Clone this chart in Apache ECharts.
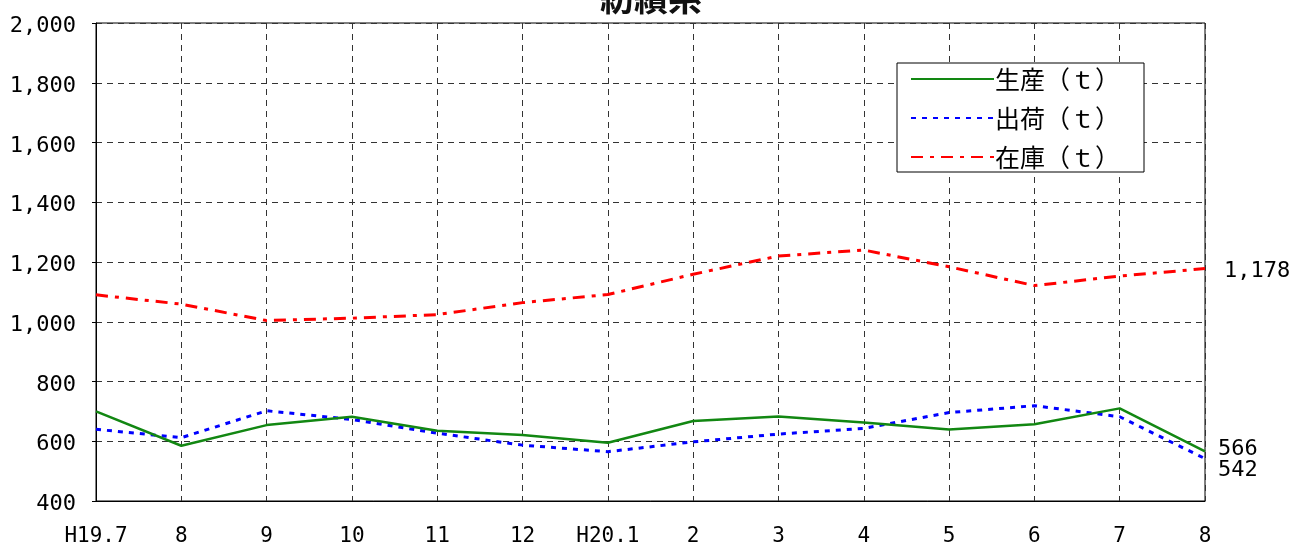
<!DOCTYPE html>
<html><head><meta charset="utf-8">
<script src="https://cdn.jsdelivr.net/npm/echarts@6/dist/echarts.min.js"></script>
<style>html,body{margin:0;padding:0;background:#fff}#c{width:1302px;height:543px}</style>
</head><body><div id="c"></div>
<script>
var categories = ['H19.7','8','9','10','11','12','H20.1','2','3','4','5','6','7','8'];
var production = [700,585,654,682,635,621,595,668,683,663,639,657,710,566];
var shipment = [640,612,702,673,627,587,565,598,624,643,696,719,682,542];
var inventory = [1090,1059,1004,1012,1024,1064,1091,1159,1220,1240,1184,1121,1153,1178];
var seriesNames = ['生産（ｔ）','出荷（ｔ）','在庫（ｔ）'];
var yTicks = {min:400, max:2000, interval:200};
var titleText = '紡績系';

var axisFont = 'DejaVu Sans Mono, Liberation Mono, monospace';
function endLabel(offset){
  return {show:true, distance:0, offset:offset, color:'#000', fontSize:22, fontFamily:axisFont,
    formatter:function(p){ return Number(p.value).toLocaleString('en-US'); }};
}
var chart = echarts.init(document.getElementById('c'), null, {renderer:'canvas'});
chart.setOption({
  animation:false,
  backgroundColor:'#fff',
  title:{text:titleText, left:'center', top:-19, padding:0, textStyle:{fontSize:34, fontWeight:'bold', color:'#111', fontFamily:'Noto Sans CJK JP'}},
  grid:{left:96, right:97, top:23, bottom:42, outerBoundsMode:'none', containLabel:false, show:true, borderColor:'#000', borderWidth:1, backgroundColor:'transparent'},
  legend:{orient:'vertical', left:897, top:63, width:246, padding:[2,24,1,13], itemGap:11, itemWidth:83, itemHeight:14,
    backgroundColor:'#fff', borderColor:'#000', borderWidth:1,
    itemStyle:{opacity:0},
    textStyle:{fontSize:25, color:'#000', fontFamily:'Noto Sans CJK JP', lineHeight:28, padding:[0,0,0,-4]},
    data:seriesNames},
  xAxis:{type:'category', data:categories, boundaryGap:false,
    axisLine:{lineStyle:{color:'#000', width:1}},
    axisTick:{show:false},
    axisLabel:{color:'#000', fontSize:21, fontFamily:axisFont, margin:25, interval:0},
    splitLine:{show:true, interval:0, lineStyle:{color:'#333', type:[6,5], width:1}}},
  yAxis:{type:'value', min:yTicks.min, max:yTicks.max, interval:yTicks.interval,
    axisLine:{show:true, lineStyle:{color:'#000', width:1}},
    axisTick:{show:true, length:4, lineStyle:{color:'#000'}},
    axisLabel:{color:'#000', fontSize:22, fontFamily:axisFont, margin:20,
      formatter:function(v){return '{v|' + v.toLocaleString('en-US') + '}';},
      rich:{v:{color:'#000', fontSize:22, fontFamily:axisFont, padding:[7,0,0,0]}}},
    splitLine:{show:true, lineStyle:{color:'#333', type:[6,5], width:1}}},
  series:[
    {name:seriesNames[0], type:'line', data:production, symbol:'none', z:4,
      lineStyle:{color:'#128712', width:2.5, type:'solid'}, itemStyle:{color:'#128712'},
      endLabel:endLabel([13,-2])},
    {name:seriesNames[1], type:'line', data:shipment, symbol:'none', z:3,
      lineStyle:{color:'#0000ff', width:3, type:[5,6]}, itemStyle:{color:'#0000ff'},
      endLabel:endLabel([13,12])},
    {name:seriesNames[2], type:'line', data:inventory, symbol:'none', z:3,
      lineStyle:{color:'#ff0000', width:3, type:[12,7,4,7]}, itemStyle:{color:'#ff0000'},
      endLabel:endLabel([19,3])}
  ]
});
</script></body></html>
